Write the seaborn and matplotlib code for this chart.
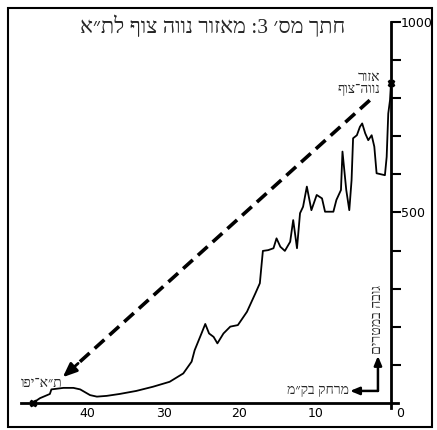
import matplotlib
matplotlib.use('Agg')
import matplotlib.pyplot as plt
import matplotlib.transforms as mtransforms
from matplotlib.patches import Rectangle
import numpy as np
import pandas as pd
import seaborn as sns

# section no. 3 - height profile (distance from Neve Tzuf in km, height in m)
dist_km = [47.2, 46.3, 45.0, 44.8, 43.2, 41.9, 41.0, 39.7, 38.8, 37.5, 35.8, 33.6,
           31.4, 29.2, 27.4, 26.3, 25.9, 25.0, 24.5, 24.0, 23.4, 22.9, 22.1, 21.2,
           20.2, 19.0, 17.9, 17.3, 17.1, 16.9, 16.2, 15.5, 15.1, 14.6, 14.0, 13.3,
           12.9, 12.4, 12.0, 11.6, 11.1, 10.5, 9.8, 9.1, 8.7, 7.6, 7.2, 6.6, 6.4,
           5.9, 5.5, 5.2, 5.0, 4.5, 4.1, 3.8, 3.4, 3.0, 2.55, 2.2, 1.9, 0.8, 0.57,
           0.36, 0.13, 0.0]
height_m = [0, 12, 23, 35, 39, 39, 35, 20, 16, 18, 23, 31,
            42, 55, 77, 108, 138, 182, 207, 182, 173, 156, 182, 200,
            204, 239, 287, 314, 357, 399, 401, 406, 432, 410, 399, 423,
            480, 406, 498, 515, 568, 506, 546, 537, 502, 502, 533, 559, 660,
            559, 506, 585, 695, 703, 725, 734, 708, 690, 703, 673, 603, 598, 646,
            760, 795, 840]

# dashed arrow (from Neve Tzuf area down to Tel Aviv)
arrow_top = [2.8, 795]
arrow_tip = [43.3, 67]

x_ticks = [0, 10, 20, 30, 40]
y_ticks = [100, 200, 300, 400, 500, 600, 700, 800, 900, 1000]
y_labels = ['', '', '', '', '500', '', '', '', '', '1000']

title_txt = 'חתך מס׳ 3: מאזור נווה צוף לת״א'
start_lbl = ['אזור', 'נווה־צוף']
end_lbl = 'ת״א־יפו'
xlab = 'מרחק בק״מ'
ylab = 'גובה במטרים'


def heb(s):
    # matplotlib has no bidi, flip for right-to-left
    return s[::-1]


sns.set_style('white')
plt.rcParams['font.family'] = ['DejaVu Sans']
hfont = ['Liberation Serif', 'DejaVu Sans']

fig = plt.figure(figsize=(4.37, 4.30), dpi=100)
ax = fig.add_axes([0, 0, 1, 1])
ax.set_xlim(51.58, -6.07)
ax.set_ylim(-71.7, 1058.4)

df = pd.DataFrame({'km': dist_km, 'h': height_m})
sns.lineplot(data=df, x='km', y='h', sort=False, estimator=None,
             color='black', lw=1.3, ax=ax)
ax.plot([dist_km[0], dist_km[-1]], [height_m[0], height_m[-1]], ls='none',
        marker='X', ms=5, color='black', clip_on=False)

# dashed arrow
p0 = np.array(arrow_top, dtype=float)
p1 = np.array(arrow_tip, dtype=float)
ax.plot([p0[0], p0[0] + (p1[0] - p0[0]) * 0.965],
        [p0[1], p0[1] + (p1[1] - p0[1]) * 0.965],
        color='black', lw=2.6, ls=(0, (3.6, 1.9)), solid_capstyle='butt')
ax.annotate('', xy=p1, xytext=p0 + (p1 - p0) * 0.95,
            arrowprops=dict(arrowstyle='-|>,head_length=0.6,head_width=0.25',
                            mutation_scale=14, color='black', lw=2.0,
                            shrinkA=0, shrinkB=0))

# axes
for s in ['left', 'top']:
    ax.spines[s].set_visible(False)
ax.spines['right'].set_position(('data', 0))
ax.spines['bottom'].set_position(('data', 0))
ax.spines['right'].set_bounds(-15, 1000)
ax.spines['bottom'].set_bounds(-0.9, 48.8)
ax.spines['right'].set_linewidth(2.0)
ax.spines['bottom'].set_linewidth(2.0)
ax.spines['right'].set_color('black')
ax.spines['bottom'].set_color('black')

ax.yaxis.tick_right()
ax.set_yticks(y_ticks)
ax.set_yticklabels(y_labels)
ax.set_xticks(x_ticks)
ax.set_xticklabels([str(t) for t in x_ticks])
ax.tick_params(axis='y', direction='out', length=7, width=1.5, pad=0,
               labelsize=9, colors='black')
ax.tick_params(axis='x', direction='in', length=5, width=1.2, pad=3,
               labelsize=9, colors='black')
ax.set_xlabel('')
ax.set_ylabel('')
zero_lbl = ax.get_xticklabels()[0]
zero_lbl.set_transform(zero_lbl.get_transform() +
                       mtransforms.ScaledTranslation(9 / 100, 0, fig.dpi_scale_trans))

# labels
fig.text(213 / 437, 1 - 27 / 430, heb(title_txt), ha='center', va='center',
         fontsize=15.5, family=hfont)
ax.text(1.45, 856, heb(start_lbl[0]), ha='right', va='center', fontsize=10,
        family=hfont)
ax.text(1.45, 824, heb(start_lbl[1]), ha='right', va='center', fontsize=10,
        family=hfont)
ax.text(43.4, 50, heb(end_lbl), ha='right', va='center', fontsize=10,
        family=hfont)

# distance / height arrows at the corner
ax.annotate('', xy=(5.4, 31), xytext=(1.72, 31),
            arrowprops=dict(arrowstyle='-|>,head_length=0.6,head_width=0.25',
                            mutation_scale=9, color='black', lw=1.8,
                            shrinkA=0, shrinkB=0))
ax.annotate('', xy=(1.72, 123), xytext=(1.72, 31),
            arrowprops=dict(arrowstyle='-|>,head_length=0.6,head_width=0.25',
                            mutation_scale=9, color='black', lw=1.8,
                            shrinkA=0, shrinkB=0))
ax.text(5.6, 31, heb(xlab), ha='right', va='center', fontsize=10, family=hfont)
ax.text(1.72, 219, heb(ylab), ha='center', va='center', rotation=90,
        fontsize=10, family=hfont)

# outer frame
fig.patches.append(Rectangle((8 / 437, 3 / 430), 424 / 437, 419 / 430,
                             transform=fig.transFigure, fill=False,
                             edgecolor='black', lw=1.5))

fig.savefig('out.png', dpi=100)
